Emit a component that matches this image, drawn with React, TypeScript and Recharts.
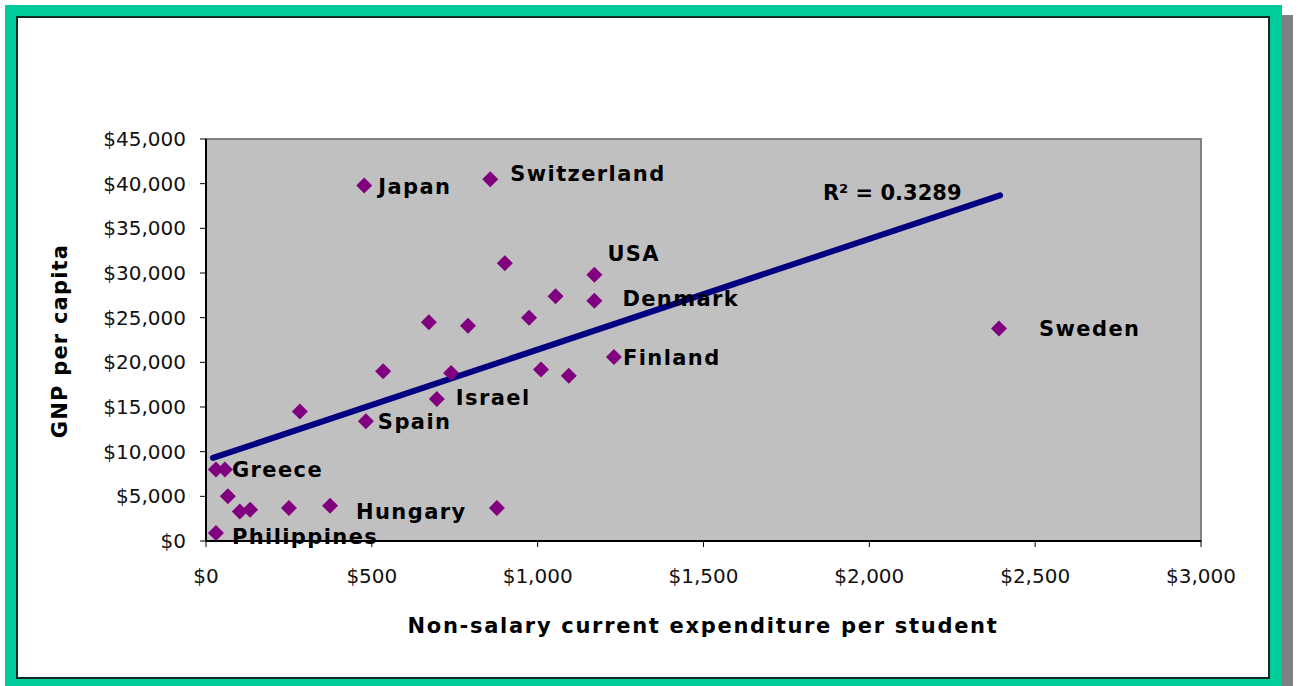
import React from "react";
import {
  ScatterChart,
  Scatter,
  XAxis,
  YAxis,
  ReferenceArea,
  ReferenceLine,
  ReferenceDot,
} from "recharts";

// data
const countries = [
  "Philippines", "", "Greece", "", "", "", "", "Hungary", "", "",
  "Spain", "", "Israel", "", "", "", "", "", "", "",
  "", "USA", "Denmark", "Finland", "Japan", "Switzerland", "Sweden",
];
const expenditure = [
  30, 30, 57, 66, 102, 133, 250, 374, 877, 283,
  482, 534, 696, 739, 672, 790, 974, 1010, 1094, 1054,
  901, 1171, 1171, 1230, 477, 857, 2391,
];
const gnp = [
  900, 8000, 8000, 5000, 3300, 3500, 3700, 3950, 3700, 14500,
  13400, 19000, 15900, 18800, 24500, 24100, 25000, 19200, 18500, 27400,
  31100, 29800, 26900, 20600, 39800, 40500, 23800,
];
const xTicks = [0, 500, 1000, 1500, 2000, 2500, 3000];
const yTicks = [0, 5000, 10000, 15000, 20000, 25000, 30000, 35000, 40000, 45000];
const trendX = [21, 2394];
const trendY = [9300, 38700];
const rSquared = "R\u00b2 = 0.3289";

const points = expenditure.map((x, i) => ({ x, y: gnp[i], name: countries[i] }));

// label placement relative to the marker (px)
const LABEL_OFFSETS: Record<string, { dx: number; dy: number }> = {
  Japan: { dx: 14, dy: 9 },
  Switzerland: { dx: 20, dy: 2 },
  USA: { dx: 13, dy: -14 },
  Denmark: { dx: 28, dy: 5 },
  Finland: { dx: 9, dy: 8 },
  Sweden: { dx: 40, dy: 8 },
  Israel: { dx: 19, dy: 6 },
  Spain: { dx: 12, dy: 8 },
  Greece: { dx: 7, dy: 7 },
  Hungary: { dx: 26, dy: 13 },
  Philippines: { dx: 16, dy: 11 },
};

const BOLD = { fontFamily: "DejaVu Sans", fontWeight: 700, fontSize: 21, fill: "#000" };

const money = (v: number) => "$" + v.toLocaleString("en-US");

function Diamond(props: any) {
  const { cx, cy, payload } = props;
  const off = LABEL_OFFSETS[payload.name];
  return (
    <g>
      <polygon
        points={`${cx},${cy - 8} ${cx + 8},${cy} ${cx},${cy + 8} ${cx - 8},${cy}`}
        fill="#800080"
      />
      {off && (
        <text x={cx + off.dx} y={cy + off.dy} {...BOLD} letterSpacing={1.4}>
          {payload.name}
        </text>
      )}
    </g>
  );
}

const xTitle = () => (
  <text x={703} y={633} textAnchor="middle" {...BOLD} letterSpacing={1.7}>
    Non-salary current expenditure per student
  </text>
);

const yTitle = () => (
  <text
    x={67}
    y={341}
    textAnchor="middle"
    transform="rotate(-90 67 341)"
    {...BOLD}
    letterSpacing={1.2}
  >
    GNP per capita
  </text>
);

const r2Label = (p: any) => (
  <text x={p.viewBox.x} y={p.viewBox.y} {...BOLD}>
    {rSquared}
  </text>
);

export default function App() {
  return (
    <div
      style={{
        position: "absolute",
        left: 0,
        top: 0,
        width: 1298,
        height: 686,
        overflow: "hidden",
        background: "#fff",
      }}
    >
      <div style={{ position: "absolute", left: 1282, top: 15, width: 11, height: 700, background: "#808080" }} />
      <div style={{ position: "absolute", left: 5, top: 5, width: 1277, height: 700, background: "#00cc99" }} />
      <div
        style={{
          position: "absolute",
          left: 16,
          top: 16,
          width: 1254,
          height: 663,
          boxSizing: "border-box",
          border: "2px solid #0d2b22",
          background: "#fff",
        }}
      />
      <div style={{ position: "absolute", left: 0, top: 0 }}>
        <ScatterChart
          width={1298}
          height={686}
          margin={{ top: 139, right: 97, bottom: 115, left: 0 }}
        >
          <ReferenceArea
            x1={0}
            x2={3000}
            y1={0}
            y2={45000}
            fill="#c0c0c0"
            fillOpacity={1}
            stroke="#808080"
            strokeWidth={2}
          />
          <XAxis
            type="number"
            dataKey="x"
            domain={[0, 3000]}
            ticks={xTicks}
            tickFormatter={money}
            height={30}
            tickSize={6}
            tickMargin={22}
            axisLine={{ stroke: "#000", strokeWidth: 2 }}
            tickLine={{ stroke: "#000" }}
            tick={{ fill: "#111", fontSize: 20, fontFamily: "DejaVu Sans" }}
            label={xTitle}
          />
          <YAxis
            type="number"
            dataKey="y"
            domain={[0, 45000]}
            ticks={yTicks}
            tickFormatter={money}
            width={206}
            tickSize={6}
            tickMargin={14}
            axisLine={{ stroke: "#000", strokeWidth: 2 }}
            tickLine={{ stroke: "#000" }}
            tick={{ fill: "#111", fontSize: 20, fontFamily: "DejaVu Sans" }}
            label={yTitle}
          />
          <ReferenceLine
            segment={[
              { x: trendX[0], y: trendY[0] },
              { x: trendX[1], y: trendY[1] },
            ]}
            stroke="#000080"
            strokeWidth={6}
            strokeLinecap="round"
          />
          <ReferenceDot x={1860} y={38170} r={0} stroke="none" label={r2Label} />
          <Scatter data={points} shape={Diamond} isAnimationActive={false} />
        </ScatterChart>
      </div>
    </div>
  );
}
